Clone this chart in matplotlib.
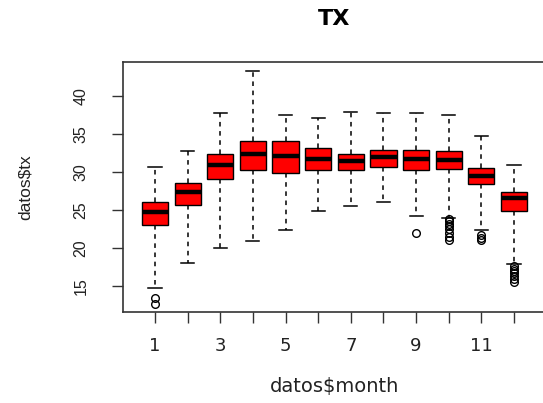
import matplotlib
matplotlib.use("Agg")
import matplotlib.pyplot as plt

months = [1, 2, 3, 4, 5, 6, 7, 8, 9, 10, 11, 12]
q1 = [23.0, 25.7, 29.1, 30.2, 29.9, 30.2, 30.3, 30.6, 30.3, 30.4, 28.45, 24.9]
med = [24.7, 27.35, 30.95, 32.3, 32.1, 31.7, 31.4, 31.9, 31.7, 31.6, 29.5, 26.5]
q3 = [26.0, 28.6, 32.4, 34.0, 34.0, 33.1, 32.4, 32.9, 32.9, 32.7, 30.5, 27.4]
whislo = [14.8, 18.0, 20.0, 20.9, 22.4, 24.9, 25.5, 26.1, 24.2, 24.0, 22.3, 17.9]
whishi = [30.6, 32.8, 37.7, 43.2, 37.5, 37.1, 37.9, 37.7, 37.7, 37.4, 34.7, 30.9]
fliers = [
    [13.4, 12.6], [], [], [], [], [], [], [], [22.0],
    [23.8, 23.5, 23.2, 22.9, 22.5, 22.0, 21.5, 21.1],
    [21.7, 21.3, 21.0],
    [17.6, 17.3, 17.0, 16.7, 16.3, 15.9, 15.6],
]
xtick_labels = ['1', '', '3', '', '5', '', '7', '', '9', '', '11', '']

stats = []
for i in range(len(months)):
    stats.append({'med': med[i], 'q1': q1[i], 'q3': q3[i],
                  'whislo': whislo[i], 'whishi': whishi[i],
                  'fliers': fliers[i], 'label': str(months[i])})

fig = plt.figure(figsize=(5.43, 4.03), dpi=100)
ax = fig.add_axes([0.2265, 0.2258, 0.779, 0.620])

ax.bxp(stats, positions=months, widths=0.8, capwidths=0.4,
       patch_artist=True,
       boxprops=dict(facecolor='#ff0000', edgecolor='black', linewidth=1),
       medianprops=dict(color='black', linewidth=3.2, solid_capstyle='butt'),
       whiskerprops=dict(color='black', linewidth=1.1, linestyle=(0, (3, 3))),
       capprops=dict(color='black', linewidth=1.1),
       flierprops=dict(marker='o', markerfacecolor='none',
                       markeredgecolor='black', markersize=5.5, markeredgewidth=1))

ax.set_xlim(0.02, 12.98)
ax.set_ylim(11.6, 44.4)
ax.set_xticks(months)
ax.set_xticklabels(xtick_labels, fontsize=13, family='DejaVu Sans', color='#222222')
ax.set_yticks([15, 20, 25, 30, 35, 40])
ax.set_yticklabels(['15', '20', '25', '30', '35', '40'], rotation=90, va='center',
                   fontsize=11.5, family='Liberation Sans', color='#222222')
ax.tick_params(axis='both', direction='out', length=8, width=1, color='#333333')
ax.tick_params(axis='y', pad=17)
ax.tick_params(axis='x', pad=10)

for s in ax.spines.values():
    s.set_linewidth(1.2)
    s.set_color('#333333')

ax.set_ylabel('datos$tx', fontsize=12.5, family='Liberation Sans', va='center', color='#222222')
ax.yaxis.set_label_coords(-0.232, 0.5)
ax.set_xlabel('datos$month', fontsize=14, family='DejaVu Sans', va='center', color='#222222')
ax.xaxis.set_label_coords(0.5, -0.30)
ax.text(0.5, 1.172, 'TX', transform=ax.transAxes, ha='center', va='center',
        fontsize=16, fontweight='bold', family='DejaVu Sans')

fig.savefig('out.png', dpi=100)
